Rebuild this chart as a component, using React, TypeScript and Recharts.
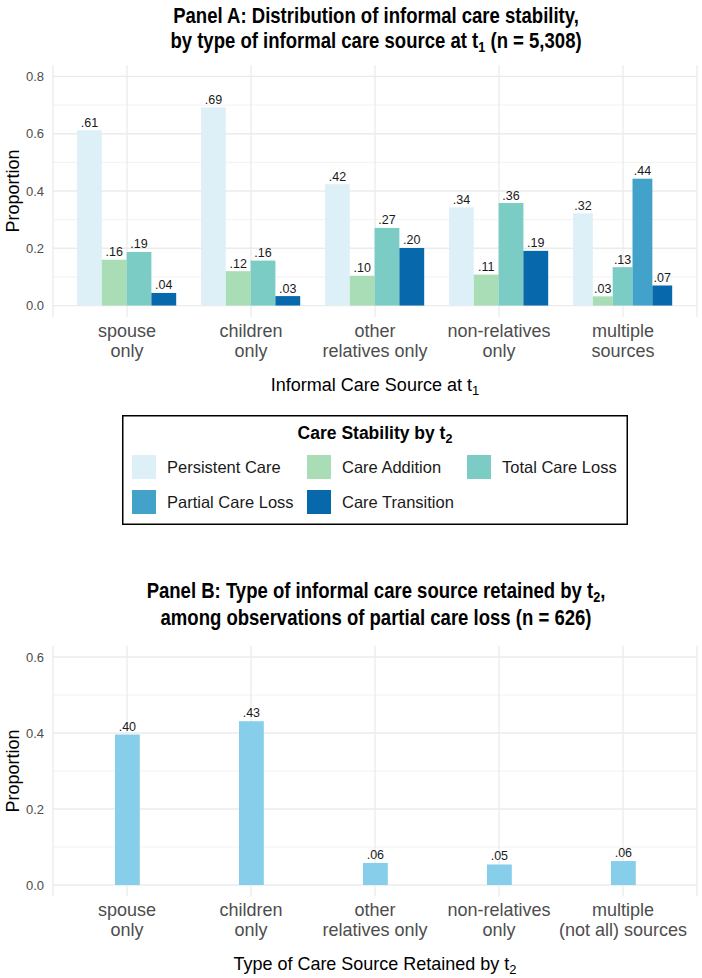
import React from 'react';
import { BarChart, Bar, XAxis, YAxis, CartesianGrid, Label } from 'recharts';

// Panel A: stability of informal care, by source at t1
const sources = ['spouse only', 'children only', 'other relatives only', 'non-relatives only', 'multiple sources'];
const sourceTicks = [
  ['spouse', 'only'],
  ['children', 'only'],
  ['other', 'relatives only'],
  ['non-relatives', 'only'],
  ['multiple', 'sources'],
];

const persistentCare = [0.612, 0.692, 0.424, 0.343, 0.322];
const careAddition = [0.16, 0.12, 0.104, 0.108, 0.032];
const totalCareLoss = [0.187, 0.157, 0.271, 0.358, 0.134];
// partial loss only exists when care came from more than one source
const partialCareLoss = [null, null, null, null, 0.443];
const careTransition = [0.044, 0.033, 0.201, 0.191, 0.07];

// Panel B: source retained among partial care loss
const retained = ['spouse only', 'children only', 'other relatives only', 'non-relatives only', 'multiple (not all) sources'];
const retainedTicks = [
  ['spouse', 'only'],
  ['children', 'only'],
  ['other', 'relatives only'],
  ['non-relatives', 'only'],
  ['multiple', '(not all) sources'],
];
const retainedShare = [0.396, 0.431, 0.058, 0.054, 0.063];

const yTicksA = [0, 0.2, 0.4, 0.6, 0.8];
const yMinorA = [0.1, 0.3, 0.5, 0.7];
const yTicksB = [0, 0.2, 0.4, 0.6];
const yMinorB = [0.1, 0.3, 0.5];

const stability = [
  { key: 'persistent', name: 'Persistent Care', color: '#def0f7', values: persistentCare },
  { key: 'addition', name: 'Care Addition', color: '#a8ddb5', values: careAddition },
  { key: 'totalLoss', name: 'Total Care Loss', color: '#7bccc4', values: totalCareLoss },
  { key: 'partialLoss', name: 'Partial Care Loss', color: '#43a2ca', values: partialCareLoss },
  { key: 'transition', name: 'Care Transition', color: '#0868ac', values: careTransition },
];

const dataA = sources.map((source, i) => {
  const row: any = { source };
  stability.forEach((s) => (row[s.key] = s.values[i]));
  return row;
});
const dataB = retained.map((source, i) => ({ source, share: retainedShare[i] }));

const FONT = '"Liberation Sans", Arial, Helvetica, sans-serif';
const GRID = '#ebebeb';
const TICK_GREY = '#4d4d4d';

const WIDTH = 702;
const PLOT_LEFT = 53;
const RIGHT = 5;
const XPAD = 12;
const BAND = (WIDTH - PLOT_LEFT - RIGHT - 2 * XPAD) / sources.length;
// titles are set in a condensed bold face: squeeze the regular bold horizontally
const TITLE_SQUEEZE = 0.843;

const fmt = (v: number) => v.toFixed(2).replace(/^0/, '');

// ggplot-style dodge: missing series give their slot to the others
function dodgedShape(slot: number) {
  return (props: any) => {
    const { x, y, width, height, payload } = props;
    const s = stability[slot];
    const v = payload ? payload[s.key] : null;
    if (v == null) return <g />;
    const present = stability.filter((d) => payload[d.key] != null);
    const k = present.findIndex((d) => d.key === s.key);
    const groupLeft = x - slot * width;
    const w = (width * stability.length) / present.length;
    const bx = groupLeft + k * w;
    return (
      <g>
        <rect x={bx} y={y} width={w} height={height} fill={s.color} />
        <text x={bx + w / 2} y={y - 3.5} textAnchor="middle" fontSize={12.5} fill="#1a1a1a" fontFamily={FONT}>
          {fmt(v)}
        </text>
      </g>
    );
  };
}

const singleShape = (color: string) => (props: any) => {
  const { x, y, width, height, payload } = props;
  return (
    <g>
      <rect x={x} y={y} width={width} height={height} fill={color} />
      <text x={x + width / 2} y={y - 4} textAnchor="middle" fontSize={12.5} fill="#1a1a1a" fontFamily={FONT}>
        {fmt(payload.share)}
      </text>
    </g>
  );
};

const makeTick = (names: string[], lines: string[][]) => (props: any) => {
  const { x, y, payload } = props;
  const idx = names.indexOf(payload.value);
  const ln = lines[idx] || [String(payload.value)];
  return (
    <text textAnchor="middle" fontSize={18} fill={TICK_GREY} fontFamily={FONT}>
      {ln.map((t, i) => (
        <tspan key={i} x={x} y={y + 20 + i * 20}>
          {t}
        </tspan>
      ))}
    </text>
  );
};

function axisTitle(text: string, sub: string) {
  return (props: any) => {
    const vb = props.viewBox || { x: PLOT_LEFT, y: 0, width: WIDTH - PLOT_LEFT - RIGHT };
    return (
      <text x={vb.x + vb.width / 2} y={vb.y + 74} textAnchor="middle" fontSize={18} fill="#000" fontFamily={FONT}>
        {text}
        <tspan fontSize={13} dy={4}>{sub}</tspan>
      </text>
    );
  };
}

const proportionLabel = (props: any) => {
  const vb = props.viewBox || { y: 0, height: 0 };
  const cy = vb.y + vb.height / 2;
  return (
    <text
      x={13}
      y={cy}
      transform={`rotate(-90, 13, ${cy})`}
      textAnchor="middle"
      dominantBaseline="central"
      fontSize={18}
      fill="#000"
      fontFamily={FONT}
    >
      Proportion
    </text>
  );
};

type Seg = { t: string; sub?: boolean };

function PanelTitle({ lines, baselines }: { lines: Seg[][]; baselines: number[] }) {
  return (
    <svg width={WIDTH} height={baselines[baselines.length - 1] + 10} style={{ position: 'absolute', left: 0, top: 0, overflow: 'visible' }}>
      <g transform={`translate(376, 0) scale(${TITLE_SQUEEZE}, 1)`}>
        {lines.map((segs, i) => (
          <text key={i} x={0} y={baselines[i]} textAnchor="middle" fontSize={22} fontWeight="bold" fill="#000" fontFamily={FONT}>
            {segs.map((s, j) => {
              const prevSub = j > 0 && segs[j - 1].sub;
              return (
                <tspan key={j} fontSize={s.sub ? 15 : 22} dy={s.sub ? 4 : prevSub ? -4 : 0}>
                  {s.t}
                </tspan>
              );
            })}
          </text>
        ))}
      </g>
    </svg>
  );
}

const titleA: Seg[][] = [
  [{ t: 'Panel A: Distribution of informal care stability,' }],
  [{ t: 'by type of informal care source at t' }, { t: '1', sub: true }, { t: ' (n = 5,308)' }],
];
const titleB: Seg[][] = [
  [{ t: 'Panel B: Type of informal care source retained by t' }, { t: '2', sub: true }, { t: ',' }],
  [{ t: 'among observations of partial care loss (n = 626)' }],
];

// legend box under panel A
const LEG_COLS = [132, 307, 467];
function StabilityLegend() {
  const top = 415;
  return (
    <svg width={WIDTH} height={130} style={{ position: 'absolute', left: 0, top: top - 5 }}>
      <g transform="translate(0,5)">
        <rect x={122.75} y={0.75} width={504.5} height={108.5} fill="#fff" stroke="#000" strokeWidth={1.5} />
        <text x={375} y={24} textAnchor="middle" fontSize={17.5} fontWeight="bold" fill="#000" fontFamily={FONT}>
          Care Stability by t<tspan fontSize={12.5} dy={4}>2</tspan>
        </text>
        {stability.map((s, i) => {
          const col = i % 3;
          const row = Math.floor(i / 3);
          const kx = LEG_COLS[col];
          const ky = 40 + row * 35;
          return (
            <g key={s.key}>
              <rect x={kx} y={ky} width={24} height={24} fill={s.color} />
              <text x={kx + 35} y={ky + 18} fontSize={16.5} fill="#1a1a1a" fontFamily={FONT}>
                {s.name}
              </text>
            </g>
          );
        })}
      </g>
    </svg>
  );
}

export default function App() {
  const topB = 560;
  return (
    <div style={{ position: 'absolute', left: 0, top: 0, width: WIDTH, height: 978, background: '#fff', fontFamily: FONT }}>
      <div style={{ position: 'absolute', left: 0, top: 0 }}>
        <BarChart
          width={WIDTH}
          height={410}
          data={dataA}
          margin={{ top: 65, right: RIGHT, bottom: 0, left: 0 }}
          barGap={0}
        >
          <CartesianGrid vertical={false} stroke={GRID} strokeWidth={0.7} horizontalValues={yMinorA} syncWithTicks />
          <CartesianGrid horizontal={false} stroke={GRID} strokeWidth={1.3} />
          <CartesianGrid vertical={false} stroke={GRID} strokeWidth={1.3} horizontalValues={yTicksA} syncWithTicks />
          <XAxis
            dataKey="source"
            type="category"
            padding={{ left: XPAD, right: XPAD }}
            height={93}
            axisLine={false}
            tickLine={false}
            tickSize={0}
            tickMargin={0}
            interval={0}
            tick={makeTick(sources, sourceTicks)}
          >
            <Label content={axisTitle('Informal Care Source at t', '1')} />
          </XAxis>
          <YAxis
            type="number"
            domain={[-0.04, 0.84]}
            allowDataOverflow
            ticks={yTicksA}
            tickFormatter={(v: number) => v.toFixed(1)}
            width={PLOT_LEFT}
            axisLine={false}
            tickLine={false}
            tickSize={0}
            tickMargin={9}
            tick={{ fontSize: 13, fill: TICK_GREY, fontFamily: FONT }}
          >
            <Label content={proportionLabel} />
          </YAxis>
          {stability.map((s, i) => (
            <Bar
              key={s.key}
              dataKey={s.key}
              name={s.name}
              fill={s.color}
              barSize={(BAND * 0.8) / stability.length}
              shape={dodgedShape(i)}
              isAnimationActive={false}
            />
          ))}
        </BarChart>
      </div>

      <div style={{ position: 'absolute', left: 0, top: topB }}>
        <BarChart
          width={WIDTH}
          height={417.4}
          data={dataB}
          margin={{ top: 85.6, right: RIGHT, bottom: 0, left: 0 }}
        >
          <CartesianGrid vertical={false} stroke={GRID} strokeWidth={0.7} horizontalValues={yMinorB} syncWithTicks />
          <CartesianGrid horizontal={false} stroke={GRID} strokeWidth={1.3} />
          <CartesianGrid vertical={false} stroke={GRID} strokeWidth={1.3} horizontalValues={yTicksB} syncWithTicks />
          <XAxis
            dataKey="source"
            type="category"
            padding={{ left: XPAD, right: XPAD }}
            height={81}
            axisLine={false}
            tickLine={false}
            tickSize={0}
            tickMargin={0}
            interval={0}
            tick={makeTick(retained, retainedTicks)}
          >
            <Label content={axisTitle('Type of Care Source Retained by t', '2')} />
          </XAxis>
          <YAxis
            type="number"
            domain={[-0.03, 0.63]}
            allowDataOverflow
            ticks={yTicksB}
            tickFormatter={(v: number) => v.toFixed(1)}
            width={PLOT_LEFT}
            axisLine={false}
            tickLine={false}
            tickSize={0}
            tickMargin={9}
            tick={{ fontSize: 13, fill: TICK_GREY, fontFamily: FONT }}
          >
            <Label content={proportionLabel} />
          </YAxis>
          <Bar
            dataKey="share"
            name="Share retained"
            fill="#87ceeb"
            barSize={BAND * 0.2}
            shape={singleShape('#87ceeb')}
            isAnimationActive={false}
          />
        </BarChart>
      </div>

      <PanelTitle lines={titleA} baselines={[23, 48]} />
      <StabilityLegend />
      <PanelTitle lines={titleB} baselines={[598, 625]} />
    </div>
  );
}
